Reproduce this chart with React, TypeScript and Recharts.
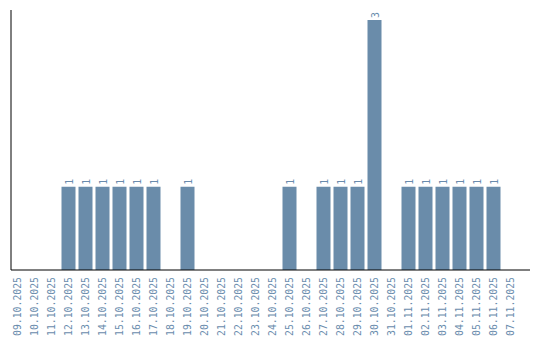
import React from 'react'
import { Bar, BarChart, LabelList, XAxis, YAxis } from 'recharts'

// Daily counts, 09.10.2025 – 07.11.2025
const dates = [
  '09.10.2025', '10.10.2025', '11.10.2025', '12.10.2025', '13.10.2025',
  '14.10.2025', '15.10.2025', '16.10.2025', '17.10.2025', '18.10.2025',
  '19.10.2025', '20.10.2025', '21.10.2025', '22.10.2025', '23.10.2025',
  '24.10.2025', '25.10.2025', '26.10.2025', '27.10.2025', '28.10.2025',
  '29.10.2025', '30.10.2025', '31.10.2025', '01.11.2025', '02.11.2025',
  '03.11.2025', '04.11.2025', '05.11.2025', '06.11.2025', '07.11.2025',
]
const counts = [
  0, 0, 0, 1, 1,
  1, 1, 1, 1, 0,
  1, 0, 0, 0, 0,
  0, 1, 0, 1, 1,
  1, 3, 0, 1, 1,
  1, 1, 1, 1, 0,
]

const BAR_COLOR = '#6a8caa'
const TEXT_COLOR = '#6a8cad'
const FONT = '"DejaVu Sans Mono", "Liberation Mono", monospace'

const data = dates.map((d, i) => ({ date: d, count: counts[i] }))

function DateTick({ x, payload }: any) {
  return (
    <text
      x={0}
      y={0}
      transform={`translate(${x + 4},277) rotate(-90)`}
      textAnchor="end"
      fontSize={9.8}
      fontFamily={FONT}
      fill={TEXT_COLOR}
    >
      {payload.value}
    </text>
  )
}

function ValueLabel({ x, y, width, value }: any) {
  if (!value) return null
  const cx = x + width / 2 + 4
  return (
    <text
      x={0}
      y={0}
      transform={`translate(${cx},${y - 2}) rotate(-90)`}
      textAnchor="start"
      fontSize={9.8}
      fontFamily={FONT}
      fill={TEXT_COLOR}
    >
      {value}
    </text>
  )
}

export default function App() {
  return (
    <div style={{ position: 'absolute', left: 0, top: 0, width: 540, height: 340 }}>
      <BarChart
        width={540}
        height={340}
        data={data}
        margin={{ top: 10, right: 10, left: 10, bottom: 0 }}
        barSize={14}
      >
        <XAxis
          dataKey="date"
          interval={0}
          height={70}
          tickLine={false}
          axisLine={{ stroke: '#000', strokeWidth: 1 }}
          tick={<DateTick />}
          padding={{ left: -2.5, right: 11.5 }}
        />
        <YAxis
          width={1}
          domain={[0, 3.12]}
          tick={false}
          tickLine={false}
          axisLine={{ stroke: '#000', strokeWidth: 1 }}
        />
        <Bar dataKey="count" fill={BAR_COLOR} isAnimationActive={false}>
          <LabelList dataKey="count" content={<ValueLabel />} />
        </Bar>
      </BarChart>
    </div>
  )
}
